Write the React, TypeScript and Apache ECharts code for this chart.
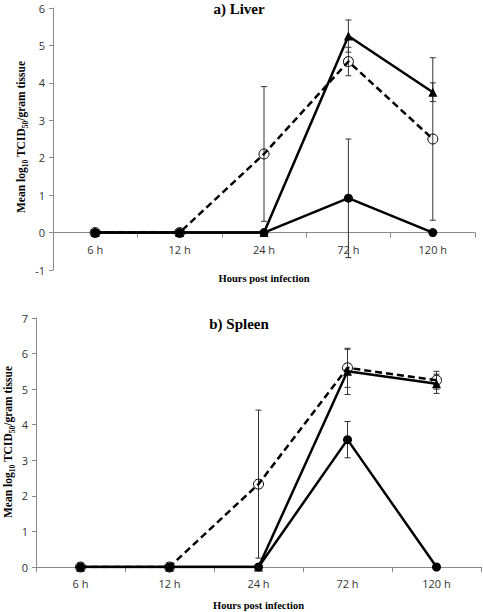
import React, { useEffect, useRef } from "react";
import * as echarts from "echarts";

const categories = ["6 h", "12 h", "24 h", "72 h", "120 h"];

// Liver
const liverOpen = [0, 0, 2.1, 4.57, 2.5];
const liverTriangle = [0, 0, 0, 5.25, 3.75];
const liverFilled = [0, 0, 0, 0.92, 0];
const liverOpenErr = [[2, 0.3, 3.9], [3, 4.19, 4.95], [4, 0.33, 4.67]];
const liverTriangleErr = [[3, 4.82, 5.68], [4, 3.5, 4.0]];
const liverFilledErr = [[3, -0.67, 2.5]];

// Spleen
const spleenOpen = [0, 0, 2.33, 5.6, 5.25];
const spleenTriangle = [0, 0, 0, 5.5, 5.15];
const spleenFilled = [0, 0, 0, 3.58, 0];
const spleenOpenErr = [[2, 0.25, 4.41], [3, 5.05, 6.15], [4, 5.0, 5.5]];
const spleenTriangleErr = [[3, 4.85, 6.12], [4, 4.88, 5.42]];
const spleenFilledErr = [[3, 3.07, 4.09]];

const titles = ["a) Liver", "b) Spleen"];
const xName = "Hours post infection";
const yName = "Mean log{sub|10} TCID{sub|50}/gram tissue";

const AXIS_COLOR = "#8a8a8a";
const SERIF = "'Liberation Serif', 'Times New Roman', serif";
const SANS = "'Open Sans', 'Liberation Sans', sans-serif";

// top grid geometry (y from -1 to 6)
const TOP_GRID_TOP = 8;
const TOP_GRID_H = 262;
const TOP_MIN = -1;
const TOP_MAX = 6;

function errorSeries(data: number[][], idx: number) {
  return {
    type: "custom",
    xAxisIndex: idx,
    yAxisIndex: idx,
    z: 1,
    silent: true,
    data,
    renderItem: (params: any, api: any) => {
      const x = api.value(0);
      const lo = api.coord([x, api.value(1)]);
      const hi = api.coord([x, api.value(2)]);
      const w = 3;
      const style = { stroke: "#333", lineWidth: 1 };
      return {
        type: "group",
        children: [
          { type: "line", shape: { x1: lo[0], y1: lo[1], x2: hi[0], y2: hi[1] }, style },
          { type: "line", shape: { x1: lo[0] - w, y1: lo[1], x2: lo[0] + w, y2: lo[1] }, style },
          { type: "line", shape: { x1: hi[0] - w, y1: hi[1], x2: hi[0] + w, y2: hi[1] }, style },
        ],
      };
    },
  };
}

function lineSeries(data: number[], idx: number, kind: "open" | "tri" | "filled") {
  const base: any = {
    type: "line",
    xAxisIndex: idx,
    yAxisIndex: idx,
    data,
    showAllSymbol: true,
    lineStyle: { color: "#000", width: 2.5 },
  };
  if (kind === "open") {
    base.symbol = "circle";
    base.symbolSize = 10;
    base.z = 3;
    base.lineStyle.type = [7, 4];
    base.itemStyle = { color: "rgba(255,255,255,0)", borderColor: "#000", borderWidth: 1 };
  } else if (kind === "tri") {
    base.symbol = "triangle";
    base.symbolSize = 9;
    base.z = 4;
    base.itemStyle = { color: "#000" };
  } else {
    base.symbol = "circle";
    base.symbolSize = 9;
    base.z = 5;
    base.itemStyle = { color: "#000" };
  }
  return base;
}

function yNameText(x: number, y: number) {
  return {
    type: "text",
    x,
    y,
    rotation: Math.PI / 2,
    silent: true,
    style: {
      text: yName,
      fontFamily: SERIF,
      fontWeight: "bold",
      fontSize: 11.5,
      fill: "#000",
      align: "center",
      verticalAlign: "middle",
      lineHeight: 16,
      rich: {
        sub: {
          fontFamily: SERIF,
          fontWeight: "bold",
          fontSize: 7.5,
          fill: "#000",
          verticalAlign: "bottom",
          lineHeight: 16,
        },
      },
    },
  };
}

export default function App() {
  const ref = useRef<HTMLDivElement>(null);

  useEffect(() => {
    if (!ref.current) return;
    const chart = echarts.init(ref.current, undefined, { renderer: "svg" });

    const xAxisBase = (idx: number, gap: number, offset: number) => ({
      type: "category",
      gridIndex: idx,
      data: categories,
      boundaryGap: true,
      position: "bottom",
      offset,
      name: xName,
      nameLocation: "middle",
      nameGap: gap,
      nameTextStyle: { fontFamily: SERIF, fontWeight: "bold", fontSize: 10.5, color: "#000" },
      axisLine: { onZero: false, lineStyle: { color: AXIS_COLOR, width: 1 } },
      axisTick: { show: true, length: 5, lineStyle: { color: AXIS_COLOR } },
      axisLabel: { fontFamily: SANS, fontSize: 11, color: "#333", margin: 11 },
      splitLine: { show: false },
    });

    const yAxisBase = (idx: number, min: number, max: number) => ({
      type: "value",
      gridIndex: idx,
      min,
      max,
      interval: 1,
      axisLine: { show: true, lineStyle: { color: AXIS_COLOR, width: 1 } },
      axisTick: { show: true, length: 4, lineStyle: { color: AXIS_COLOR } },
      axisLabel: { fontFamily: SANS, fontSize: 11, color: "#333", margin: 8 },
      splitLine: { show: false },
    });

    // shift the top x axis up so it sits at y = 0
    const topOffset = -(TOP_GRID_H * (0 - TOP_MIN)) / (TOP_MAX - TOP_MIN);

    chart.setOption({
      animation: false,
      backgroundColor: "#fff",
      title: [
        {
          text: titles[0],
          left: 239,
          top: 1,
          padding: 0,
          textAlign: "center",
          textStyle: { fontFamily: SERIF, fontWeight: "bold", fontSize: 15, color: "#000" },
        },
        {
          text: titles[1],
          left: 239,
          top: 316,
          padding: 0,
          textAlign: "center",
          textStyle: { fontFamily: SERIF, fontWeight: "bold", fontSize: 15, color: "#000" },
        },
      ],
      graphic: [yNameText(21, 137), yNameText(8, 442)],
      grid: [
        { left: 53, width: 422, top: TOP_GRID_TOP, height: TOP_GRID_H, containLabel: false },
        { left: 36, width: 445, top: 318, height: 249, containLabel: false },
      ],
      xAxis: [xAxisBase(0, 40, topOffset), xAxisBase(1, 33, 0)],
      yAxis: [yAxisBase(0, TOP_MIN, TOP_MAX), yAxisBase(1, 0, 7)],
      series: [
        errorSeries(liverOpenErr, 0),
        errorSeries(liverTriangleErr, 0),
        errorSeries(liverFilledErr, 0),
        lineSeries(liverOpen, 0, "open"),
        lineSeries(liverTriangle, 0, "tri"),
        lineSeries(liverFilled, 0, "filled"),
        errorSeries(spleenOpenErr, 1),
        errorSeries(spleenTriangleErr, 1),
        errorSeries(spleenFilledErr, 1),
        lineSeries(spleenOpen, 1, "open"),
        lineSeries(spleenTriangle, 1, "tri"),
        lineSeries(spleenFilled, 1, "filled"),
      ],
    });

    return () => chart.dispose();
  }, []);

  return (
    <div
      ref={ref}
      style={{ position: "absolute", left: 0, top: 0, width: 483, height: 612, background: "#fff" }}
    />
  );
}
